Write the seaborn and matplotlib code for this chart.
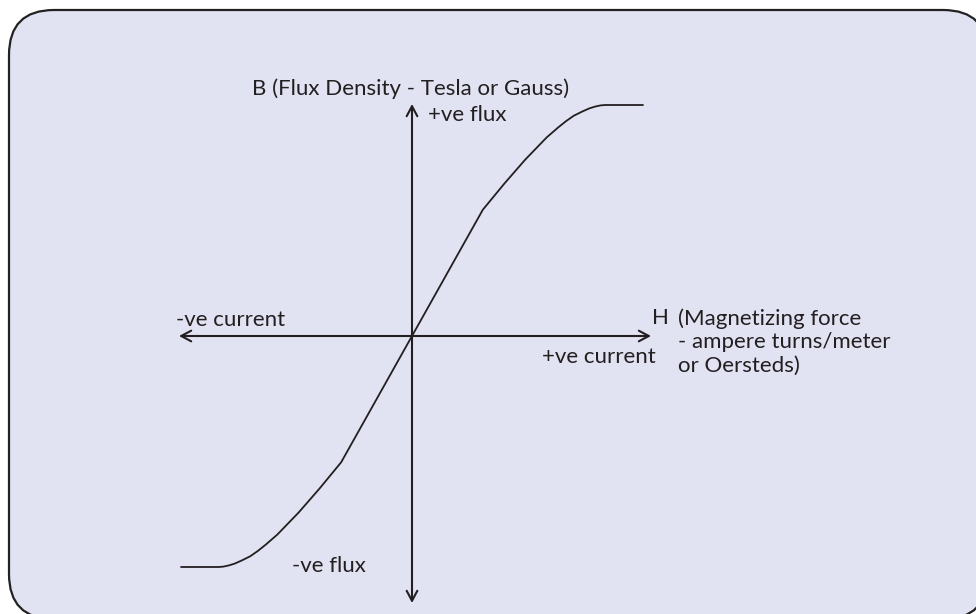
import numpy as np
import pandas as pd
import seaborn as sns
import matplotlib.pyplot as plt
from matplotlib.patches import FancyBboxPatch

# --- DATA (B-H magnetization curve, upper half; lower half is point-symmetric) ---
H_UPPER = [0.0, 0.92, 1.20, 1.47, 1.75, 1.90, 2.00, 2.10, 2.20, 2.30, 2.38, 2.45, 2.51, 3.0]
B_UPPER = [0.0, 1.64, 1.98, 2.29, 2.58, 2.71, 2.79, 2.86, 2.91, 2.955, 2.98, 2.995, 3.00, 3.0]

LABEL_B = "B (Flux Density - Tesla or Gauss)"
LABEL_H = "H"
LABEL_H_DETAIL = "(Magnetizing force\n- ampere turns/meter\nor Oersteds)"
LABEL_POS_FLUX = "+ve flux"
LABEL_NEG_FLUX = "-ve flux"
LABEL_POS_CUR = "+ve current"
LABEL_NEG_CUR = "-ve current"

INK = "#231F20"
PANEL = "#E1E2F2"
W, H_PX = 976, 614
SCALE = 77.0          # pixels per data unit
ORIGIN = (412, 336)   # pixel location of (0, 0)


def px(x, y):
    # convert picture pixels to data coords
    return (x - ORIGIN[0]) / SCALE, (ORIGIN[1] - y) / SCALE


def main():
    sns.set_theme(style="white")
    plt.rcParams['font.family'] = ['Lato', 'DejaVu Sans']

    h_full = [-h for h in reversed(H_UPPER)] + H_UPPER[1:]
    b_full = [-b for b in reversed(B_UPPER)] + B_UPPER[1:]
    df = pd.DataFrame({"H": h_full, "B": b_full})

    fig = plt.figure(figsize=(W / 100, H_PX / 100), dpi=100)
    fig.patch.set_facecolor("white")

    # rounded panel behind everything, on its own pixel-space axes
    bg = fig.add_axes([0, 0, 1, 1])
    bg.set_xlim(0, W)
    bg.set_ylim(H_PX, 0)
    bg.axis("off")
    bg.add_patch(FancyBboxPatch((9, 10), 988 - 9, 619 - 10,
                                boxstyle="round,pad=0,rounding_size=45",
                                facecolor=PANEL, edgecolor="#222222",
                                linewidth=1.6))

    ax = fig.add_axes([0, 0, 1, 1])
    ax.set_facecolor("none")
    ax.set_xlim(px(0, 0)[0], px(W, 0)[0])
    ax.set_ylim(px(0, H_PX)[1], px(0, 0)[1])
    ax.axis("off")

    # axes with arrows
    arrow = dict(arrowstyle="<->,head_length=0.6,head_width=0.32", color=INK,
                 lw=1.5, shrinkA=0, shrinkB=0)
    ax.annotate("", xy=px(412, 104), xytext=px(412, 603), arrowprops=arrow)
    ax.annotate("", xy=px(651, 336), xytext=px(179, 336), arrowprops=arrow)

    sns.lineplot(data=df, x="H", y="B", sort=False, color=INK, lw=1.3, ax=ax)

    fs = 16
    ax.text(*px(252, 89), LABEL_B, fontsize=fs, color=INK, va="center", ha="left")
    ax.text(*px(428, 115), LABEL_POS_FLUX, fontsize=fs, color=INK, va="center", ha="left")
    ax.text(*px(176, 320), LABEL_NEG_CUR, fontsize=fs, color=INK, va="center", ha="left")
    ax.text(*px(542, 357), LABEL_POS_CUR, fontsize=fs, color=INK, va="center", ha="left")
    ax.text(*px(292, 566), LABEL_NEG_FLUX, fontsize=fs, color=INK, va="center", ha="left")
    ax.text(*px(652, 318), LABEL_H, fontsize=fs, color=INK, va="center", ha="left")
    ax.text(*px(678, 342), LABEL_H_DETAIL, fontsize=fs, color=INK, va="center",
            ha="left", linespacing=1.2)

    fig.savefig("out.png", dpi=100)


if __name__ == "__main__":
    main()
